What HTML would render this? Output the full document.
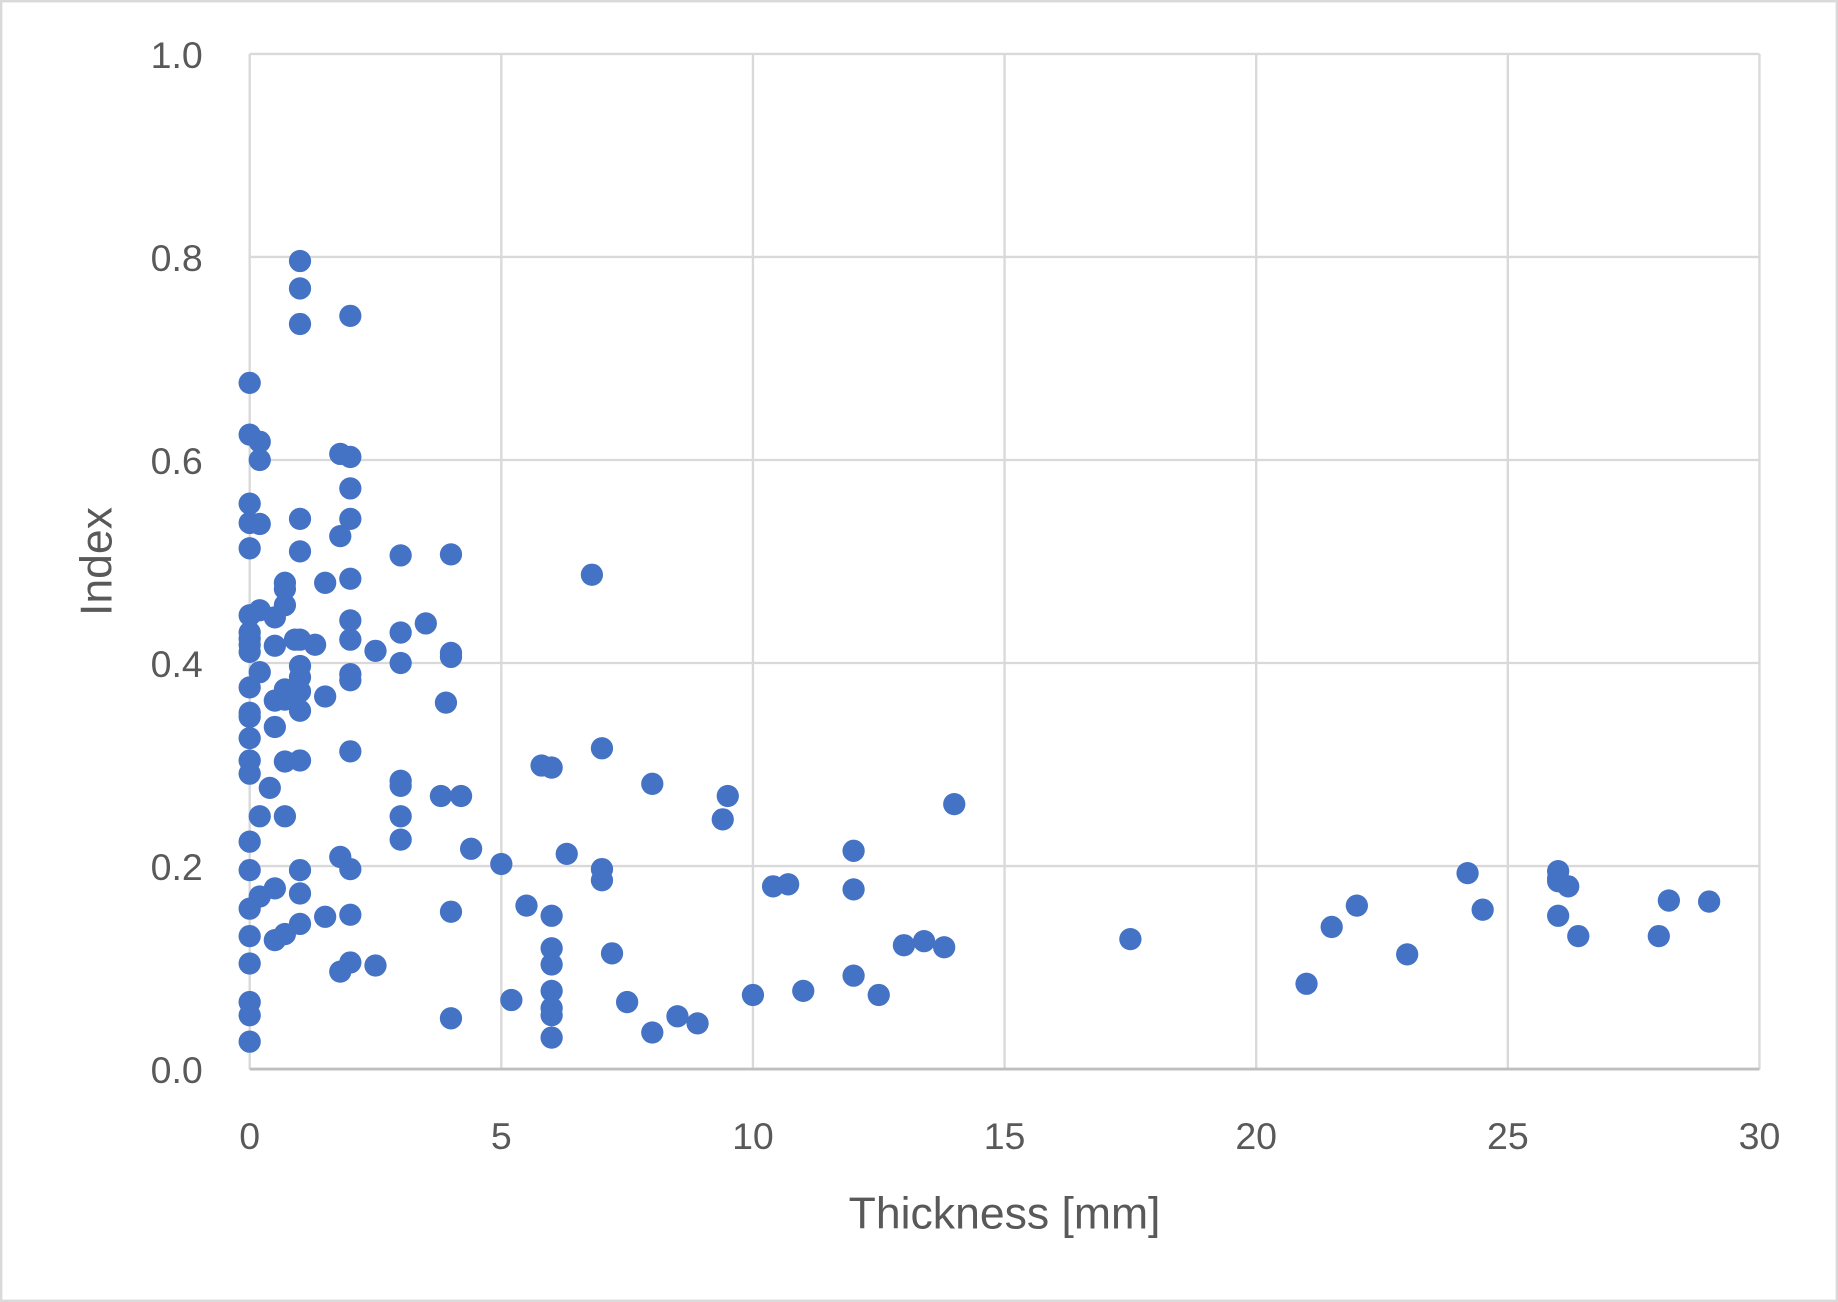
<!DOCTYPE html>
<html><head><meta charset="utf-8"><style>
html,body{margin:0;padding:0;background:#fff;}
svg{display:block;font-family:"Liberation Sans",sans-serif;}
</style></head><body>
<svg id="chart" width="1838" height="1302" viewBox="0 0 1568 1110.7" xmlns="http://www.w3.org/2000/svg">
<rect x="1" y="1" width="1566" height="1108.7" fill="#fff" stroke="#d9d9d9" stroke-width="2"/>
<g id="grid"></g>
<g id="ticks"></g>
<g id="points"></g>
<text transform="translate(95,479) rotate(-90)" text-anchor="middle" font-size="38" fill="#595959">Index</text>
<text x="857" y="1048" text-anchor="middle" font-size="38" fill="#595959">Thickness [mm]</text>
</svg>
<script>
const xTicks=[0,5,10,15,20,25,30];
const yTicks=[0,0.2,0.4,0.6,0.8,1.0];
const yTickLabels=["0.0","0.2","0.4","0.6","0.8","1.0"];
const xs=[0,0,0,0,0,0,0,0,0,0,0,0,0,0,0,0,0,0,0,0,0,0,0,0,
0.2,0.2,0.2,0.2,0.2,0.2,0.2,0.4,
0.5,0.5,0.5,0.5,0.5,0.5,
0.7,0.7,0.7,0.7,0.7,0.7,0.7,0.7,
1,1,1,1,1,1,1,1,1,1,1,1,1,1,0.9,1.3,1.5,1.5,1.5,1.8,1.8,1.8,1.8,
2,2,2,2,2,2,2,2,2,2,2,2,2,2.5,2.5,
3,3,3,3,3,3,3,3.5,3.8,3.9,4,4,4,4,4,4.2,4.4,5,5.2,5.5,5.8,
6,6,6,6,6,6,6,6,6.3,6.8,7,7,7,7.2,7.5,8,8,8.5,8.9,9.4,9.5,10,10.4,10.7,11,
12,12,12,12.5,13,13.4,13.8,14,17.5,21,21.5,22,23,24.2,24.5,26,26,26,26,26.2,26.4,28,28.2,29];
const ys=[0.676,0.625,0.557,0.538,0.513,0.447,0.430,0.424,0.418,0.411,0.376,0.351,0.347,0.326,0.304,0.291,0.224,0.196,0.158,0.131,0.104,0.066,0.053,0.027,
0.618,0.600,0.537,0.452,0.391,0.249,0.170,0.277,
0.445,0.417,0.363,0.337,0.178,0.127,
0.479,0.473,0.457,0.374,0.364,0.303,0.249,0.133,
0.796,0.769,0.734,0.542,0.510,0.423,0.397,0.386,0.372,0.353,0.304,0.196,0.173,0.143,0.423,0.418,0.479,0.367,0.150,0.606,0.525,0.209,0.096,
0.742,0.603,0.572,0.542,0.483,0.442,0.423,0.389,0.383,0.313,0.197,0.152,0.105,0.412,0.102,
0.506,0.430,0.400,0.284,0.279,0.249,0.226,0.439,0.269,0.361,0.507,0.410,0.406,0.155,0.050,0.269,0.217,0.202,0.068,0.161,0.299,
0.297,0.151,0.119,0.103,0.077,0.060,0.053,0.031,0.212,0.487,0.316,0.197,0.186,0.114,0.066,0.281,0.036,0.052,0.045,0.246,0.269,0.073,0.180,0.182,0.077,
0.215,0.177,0.092,0.073,0.122,0.126,0.120,0.261,0.128,0.084,0.140,0.161,0.113,0.193,0.157,0.195,0.188,0.185,0.151,0.180,0.131,0.131,0.166,0.165];
const X0=213,X1=1501,Y0=912,Y1=46;
const sx=v=>X0+(v-0)/(30-0)*(X1-X0);
const sy=v=>Y0-(v-0)/(1-0)*(Y0-Y1);
const NS="http://www.w3.org/2000/svg";
const grid=document.getElementById('grid'),ticks=document.getElementById('ticks'),pts=document.getElementById('points');
function mk(t,a){const e=document.createElementNS(NS,t);for(const k in a)e.setAttribute(k,a[k]);return e;}
xTicks.forEach((t,i)=>{
  if(i>0){const l=mk('line',{x1:sx(t),x2:sx(t),y1:Y1,y2:Y0,stroke:'#d9d9d9','stroke-width':2});
  
  
  grid.appendChild(l);}
  const tx=mk('text',{x:sx(t),y:980,'text-anchor':'middle','font-size':32,fill:'#595959'});
  tx.textContent=t;
  
  
  ticks.appendChild(tx);
});
yTicks.forEach((t,i)=>{
  if(i>0){const l=mk('line',{x1:X0,x2:X1,y1:sy(t),y2:sy(t),stroke:'#d9d9d9','stroke-width':2});
  
  
  grid.appendChild(l);}
  const tx=mk('text',{x:173,y:sy(t)+12,'text-anchor':'end','font-size':32,fill:'#595959'});
  tx.textContent=yTickLabels[i];
  
  
  ticks.appendChild(tx);
});
const yl=mk('line',{x1:X0,x2:X0,y1:Y1,y2:Y0,stroke:'#d9d9d9','stroke-width':2});


grid.appendChild(yl);
const xl=mk('line',{x1:X0,x2:X1,y1:Y0,y2:Y0,stroke:'#bfbfbf','stroke-width':2.5});


grid.appendChild(xl);
xs.forEach((x,i)=>{
  const c=mk('circle',{cx:sx(x),cy:sy(ys[i]),r:9.5,fill:'#4472c4'});
  
  
  pts.appendChild(c);
});
</script>
</body></html>
